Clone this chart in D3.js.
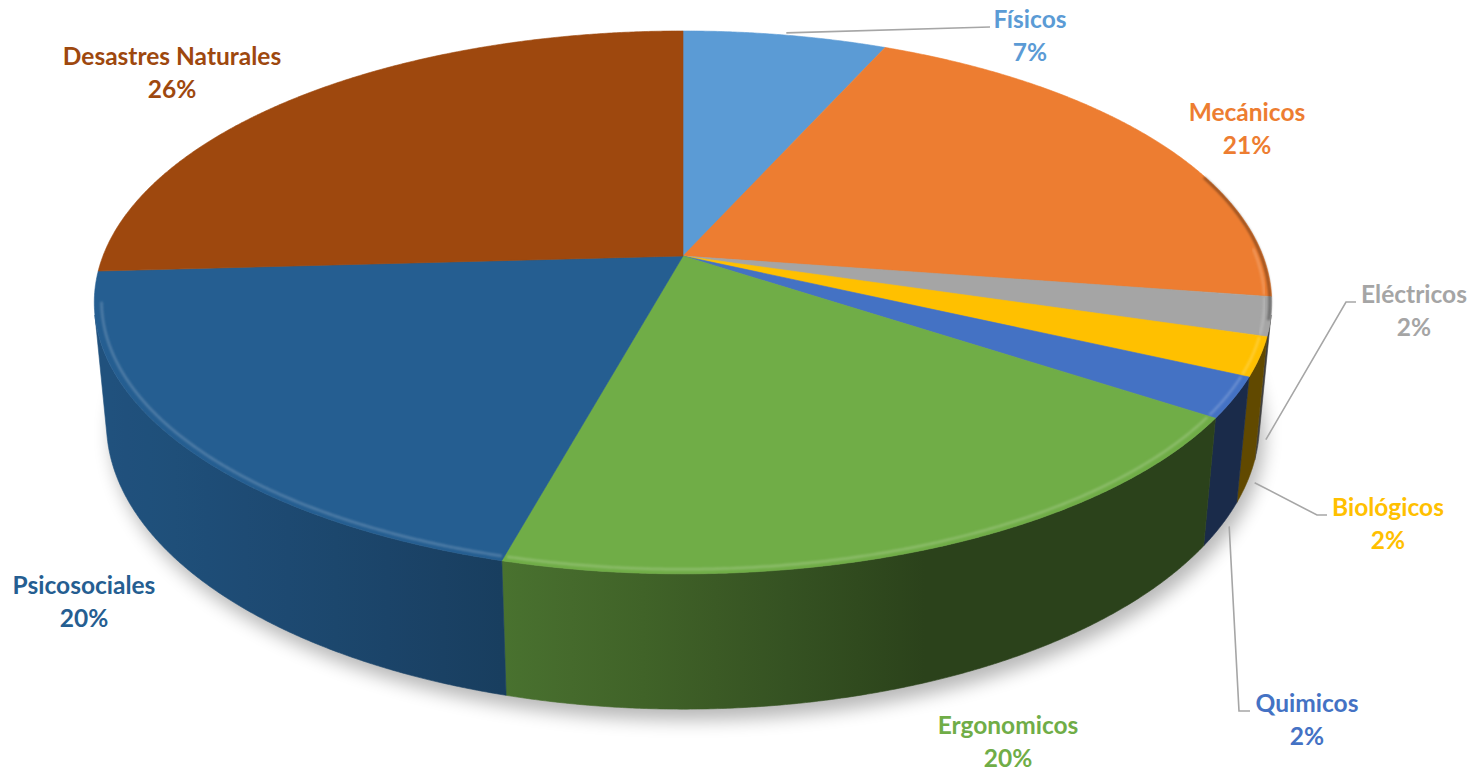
<!DOCTYPE html>
<html>
<head>
<meta charset="utf-8">
<title>Riesgos</title>
<script src="https://cdn.jsdelivr.net/npm/d3@7"></script>
<style>
  body { margin: 0; background: #fff; }
  .lbl { font-family: Lato, "Open Sans", sans-serif; font-weight: 700; }
</style>
</head>
<body>
<div id="chart"></div>
<script>
var categories = ["Físicos", "Mecánicos", "Eléctricos", "Biológicos", "Quimicos", "Ergonomicos", "Psicosociales", "Desastres Naturales"];
var values = [6.6, 20.8, 2.3, 2.3, 2.4, 19.8, 19.9, 25.9];
var colors = ["#5B9BD5", "#ED7D31", "#A5A5A5", "#FFC000", "#4472C4", "#70AD47", "#255E91", "#9E480E"];

var w = 1480, h = 772;
var cx = 683, cy = 256;

/* perspective of the tilted disc */
var sinT = 0.4543, cosT = Math.sqrt(1 - sinT * sinT);
var dist = 5.21, focal = 3022, depth = 0.235;

/* label layout: centre x, first baseline */
var labelPos = {
	"Físicos": [1030, 28],
	"Mecánicos": [1247, 121],
	"Eléctricos": [1414, 303],
	"Biológicos": [1388, 516],
	"Quimicos": [1307, 712],
	"Ergonomicos": [1008, 734],
	"Psicosociales": [84, 594],
	"Desastres Naturales": [172, 65]
};
var leaders = {
	"Físicos": [[990, 27]],
	"Eléctricos": [[1346, 302], [1356, 302]],
	"Biológicos": [[1317, 515], [1327, 515]],
	"Quimicos": [[1239, 711], [1250, 711]]
};

function project(a, r, z) {
	// a: clockwise from the back, r: radius 0..1, z: height (0 top)
	var X = r * Math.sin(a), Z = -r * Math.cos(a);
	var yc = Z * sinT - z * cosT, zc = Z * cosT + z * sinT;
	var s = focal / (dist - zc);
	return [cx + X * s, cy + yc * s];
}

// outer wall faces the viewer where cos(a) < -1/(dist*cosT)
var aMin = Math.acos(-1 / (dist * cosT)), aMax = 2 * Math.PI - aMin;

/* light comes from the front left */
var lightA = 250 * Math.PI / 180;
function shadeFactor(a) { return 0.38 + 0.48 * Math.max(0, Math.cos(a - lightA)); }
function shade(c, f) {
	var k = d3.rgb(c);
	return d3.rgb(k.r * f, k.g * f, k.b * f).formatHex();
}
function arcPts(a0, a1, r, z) {
	var n = Math.max(2, Math.ceil(Math.abs(a1 - a0) / 0.005));
	var pts = [];
	for (var i = 0; i <= n; i++) pts.push(project(a0 + (a1 - a0) * i / n, r, z));
	return pts;
}

var pie = d3.pie().sort(null).value(function(d) { return d; });
var arcs = pie(values);
var line = d3.line();

var SVG = d3.select("#chart").append("svg")
	.attr("width", w)
	.attr("height", h);

var defs = SVG.append("defs");
defs.append("filter").attr("id", "shadowBlur")
	.attr("x", "-20%").attr("y", "-20%").attr("width", "140%").attr("height", "140%")
	.append("feGaussianBlur").attr("stdDeviation", 9);
defs.append("filter").attr("id", "soft")
	.attr("x", "-5%").attr("y", "-5%").attr("width", "110%").attr("height", "110%")
	.append("feGaussianBlur").attr("stdDeviation", 1.2);

/* shadow under the pie */
SVG.append("path")
	.attr("d", line(arcPts(0, 2 * Math.PI, 1, -depth)) + "Z")
	.attr("transform", "translate(5, 11)")
	.attr("fill", "#000")
	.attr("opacity", 0.28)
	.attr("filter", "url(#shadowBlur)");

/* outer walls */
arcs.forEach(function(d, i) {
	var a0 = Math.max(d.startAngle, aMin), a1 = Math.min(d.endAngle, aMax);
	if (a1 <= a0) return;
	var topPts = arcPts(a0, a1, 1, 0);
	var botPts = arcPts(a1, a0, 1, -depth);
	var xR = project(a0, 1, 0)[0], xL = project(a1, 1, 0)[0];
	var grad = defs.append("linearGradient").attr("id", "wall" + i)
		.attr("gradientUnits", "userSpaceOnUse")
		.attr("x1", xL).attr("x2", xR).attr("y1", 0).attr("y2", 0);
	for (var k = 0; k <= 12; k++) {
		var a = a1 - (a1 - a0) * k / 12;
		var x = project(a, 1, 0)[0];
		grad.append("stop")
			.attr("offset", xR > xL ? (x - xL) / (xR - xL) : 0)
			.attr("stop-color", shade(colors[i], shadeFactor(a)));
	}
	SVG.append("path")
		.attr("d", line(topPts.concat(botPts)) + "Z")
		.attr("fill", "url(#wall" + i + ")")
		.attr("stroke", "url(#wall" + i + ")")
		.attr("stroke-width", 0.6);
});

/* top faces */
SVG.selectAll("path.top")
	.data(arcs)
	.enter()
	.append("path")
	.attr("class", "top")
	.attr("d", function(d) {
		return line([project(0, 0, 0)].concat(arcPts(d.startAngle, d.endAngle, 1, 0))) + "Z";
	})
	.attr("fill", function(d, i) { return colors[i]; })
	.attr("stroke", function(d, i) { return colors[i]; })
	.attr("stroke-width", 0.6)
	.attr("stroke-linejoin", "round");

/* bevel highlight on the front rim */
arcs.forEach(function(d, i) {
	var a0 = Math.max(d.startAngle, aMin - 0.25), a1 = Math.min(d.endAngle, aMax + 0.05);
	if (a1 <= a0) return;
	SVG.append("path")
		.attr("d", line(arcPts(a0 + 0.004, a1 - 0.004, 0.988, 0)))
		.attr("fill", "none")
		.attr("stroke", d3.interpolateRgb(colors[i], "#fff")(0.2))
		.attr("stroke-width", 2.5)
		.attr("filter", "url(#soft)");
});
/* dark rounding at the right edge */
SVG.append("path")
	.attr("d", line(arcPts(1.25, aMin + 0.02, 0.997, 0)))
	.attr("fill", "none")
	.attr("stroke", "#000")
	.attr("stroke-opacity", 0.35)
	.attr("stroke-width", 3)
	.attr("filter", "url(#soft)");

/* leader lines */
arcs.forEach(function(d, i) {
	var pts = leaders[categories[i]];
	if (!pts) return;
	var mid = (d.startAngle + d.endAngle) / 2;
	var onWall = mid > aMin && mid < aMax;
	var start = project(mid, 1.012, onWall ? -depth : 0);
	SVG.append("path")
		.attr("d", line([start].concat(pts)))
		.attr("fill", "none")
		.attr("stroke", "#A6A6A6")
		.attr("stroke-width", 1.6);
});

/* labels */
var total = d3.sum(values);
var lbl = SVG.selectAll("text.lbl")
	.data(arcs)
	.enter()
	.append("text")
	.attr("class", "lbl")
	.attr("text-anchor", "middle")
	.attr("font-size", "24.5px")
	.attr("fill", function(d, i) { return colors[i]; });
lbl.append("tspan")
	.attr("x", function(d, i) { return labelPos[categories[i]][0]; })
	.attr("y", function(d, i) { return labelPos[categories[i]][1]; })
	.text(function(d, i) { return categories[i]; });
lbl.append("tspan")
	.attr("x", function(d, i) { return labelPos[categories[i]][0]; })
	.attr("y", function(d, i) { return labelPos[categories[i]][1] + 33; })
	.text(function(d) { return Math.round(d.value / total * 100) + "%"; });
</script>
</body>
</html>
